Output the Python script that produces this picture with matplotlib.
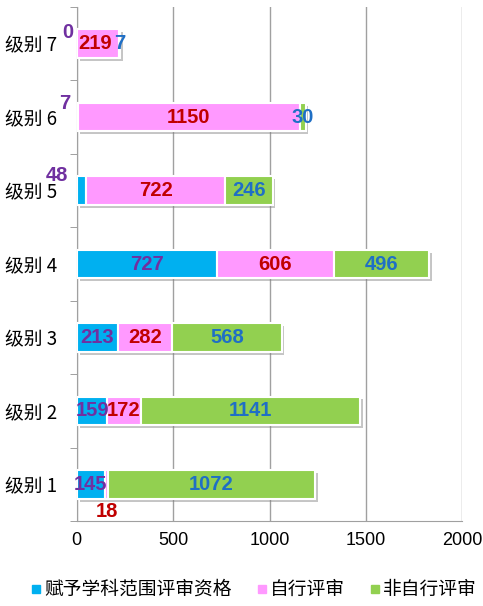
import matplotlib
matplotlib.use("Agg")
import matplotlib.pyplot as plt
import matplotlib.patheffects as pe
from matplotlib.lines import Line2D
import numpy as np

# data
levels = ["级别 1", "级别 2", "级别 3", "级别 4", "级别 5", "级别 6", "级别 7"]
series_names = ["赋予学科范围评审资格", "自行评审", "非自行评审"]
qualified = [145, 159, 213, 727, 48, 7, 0]
self_review = [18, 172, 282, 606, 722, 1150, 219]
other_review = [1072, 1141, 568, 496, 246, 30, 7]

bar_colors = ["#00B0F0", "#FF99FF", "#92D050"]
label_colors = ["#7030A0", "#C00000", "#1F6FC5"]

# label offsets (pixels) for the small segments that were moved off the bar
special = {
    (0, 6): (-9, 11),
    (1, 6): (-3, 0),
    (2, 6): (0, 0),
    (0, 5): (-13, 14),
    (0, 4): (-24, 15),
    (1, 0): (0, -27),
}

CJK = ["Noto Sans CJK SC", "DejaVu Sans"]
NARROW = ["Liberation Sans Narrow", "Liberation Sans", "DejaVu Sans"]

fig = plt.figure(figsize=(4.83, 6.06), dpi=100)
ax = fig.add_axes([0.159, 0.140, 0.798, 0.8485])

y = np.arange(len(levels))
shadow = [pe.SimplePatchShadow(offset=(2, -2), shadow_rgbFace="#808080", alpha=0.45), pe.Normal()]

data = [qualified, self_review, other_review]
left = np.zeros(len(levels))
for i, vals in enumerate(data):
    vals = np.array(vals, dtype=float)
    bars = ax.barh(y, vals, left=left, height=0.39, color=bar_colors[i],
                   edgecolor="white", linewidth=1.5, zorder=3)
    for b in bars:
        b.set_path_effects(shadow)
    for j, v in enumerate(vals):
        cx = left[j] + v / 2
        dx, dy = special.get((i, j), (0, 0))
        ax.annotate(str(int(v)), (cx, y[j]), xytext=(dx, dy), textcoords="offset pixels",
                    ha="center", va="center", fontsize=14.5, fontweight="bold",
                    color=label_colors[i], family=NARROW, zorder=5,
                    annotation_clip=False)
    left += vals

ax.set_xlim(0, 2000)
ax.set_ylim(-0.5, len(levels) - 0.5)
ax.set_xticks([0, 500, 1000, 1500, 2000])
ax.set_xticklabels(["0", "500", "1000", "1500", "2000"], family=NARROW, fontsize=13)
ax.set_yticks(y)
ax.set_yticklabels(levels, family=CJK, fontsize=13.5)
ax.set_yticks(np.arange(-0.5, len(levels), 1), minor=True)
ax.tick_params(axis="y", which="major", length=0, pad=14)
ax.tick_params(axis="y", which="minor", length=5, color="#909090", direction="out")
ax.tick_params(axis="x", length=0, pad=8)

ax.grid(axis="x", color="#A0A0A0", linewidth=1, zorder=0)
for s in ["top", "right"]:
    ax.spines[s].set_visible(False)
for s in ["left", "bottom"]:
    ax.spines[s].set_color("#A0A0A0")

handles = [Line2D([], [], marker="s", linestyle="", markersize=6,
                  markerfacecolor=c, markeredgecolor=c) for c in bar_colors]
fig.legend(handles, series_names, loc="center", bbox_to_anchor=(0.525, 0.027), ncol=3,
           frameon=False, handlelength=0.6, handletextpad=0.15, columnspacing=1.3,
           prop={"family": CJK, "size": 13.5})

fig.savefig("out.png", dpi=100)
